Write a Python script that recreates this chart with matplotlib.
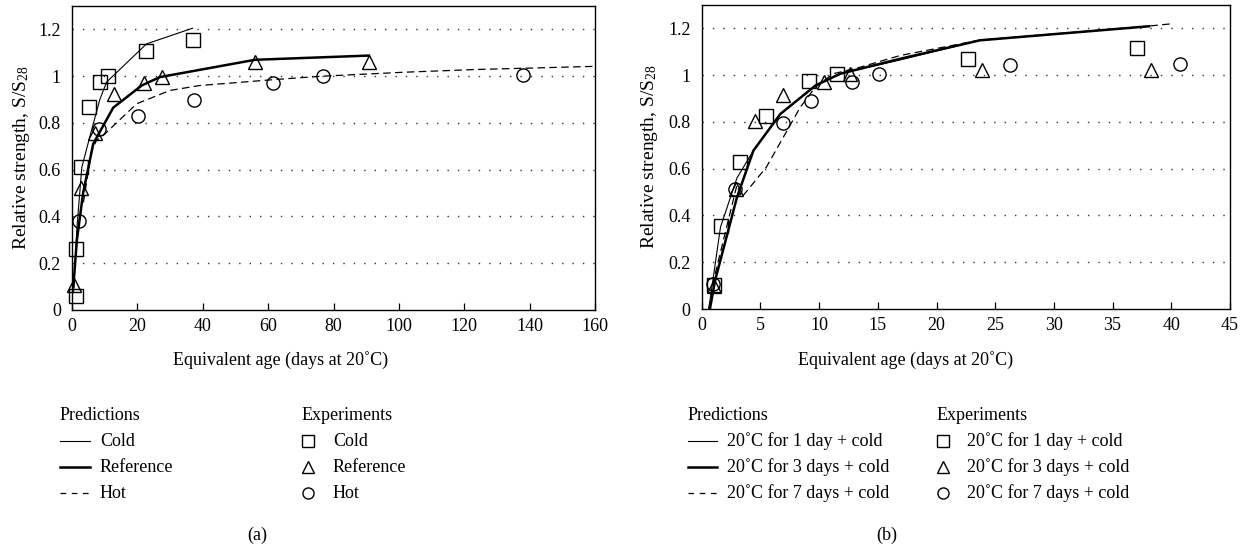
import matplotlib
matplotlib.use("Agg")
import matplotlib.pyplot as plt
from matplotlib.lines import Line2D

plt.rcParams['font.family'] = ['Liberation Serif', 'DejaVu Serif']
plt.rcParams['mathtext.fontset'] = 'custom'
plt.rcParams['mathtext.rm'] = 'Liberation Serif'
plt.rcParams['mathtext.it'] = 'Liberation Serif:italic'
plt.rcParams['font.size'] = 13

# ---------------- data: panel (a) ----------------
a_cold_pred_x = [0.5, 1.5, 3, 6, 8.5, 10.6, 22.8, 36.9]
a_cold_pred_y = [0.08, 0.35, 0.61, 0.77, 0.9, 0.975, 1.138, 1.205]
a_ref_pred_x = [0.4, 1.5, 3.4, 6.5, 12.6, 21.3, 26.9, 56, 90.8]
a_ref_pred_y = [0.1, 0.3, 0.5, 0.711, 0.865, 0.96, 0.996, 1.07, 1.088]
a_hot_pred_x = [3.5, 4.5, 6, 7.5, 9.6, 19.8, 30, 39.1, 61.6, 76.7, 102, 122.7, 160]
a_hot_pred_y = [0.46, 0.55, 0.68, 0.726, 0.747, 0.882, 0.939, 0.96, 0.985, 1.0, 1.017, 1.028, 1.042]

a_cold_exp_x = [1.2, 1.2, 2.8, 5.3, 8.6, 11.1, 22.5, 36.9]
a_cold_exp_y = [0.06, 0.26, 0.61, 0.87, 0.977, 1.0, 1.106, 1.156]
a_ref_exp_x = [0.6, 2.8, 7, 12.9, 22, 27.6, 56, 90.8]
a_ref_exp_y = [0.107, 0.52, 0.755, 0.924, 0.97, 0.998, 1.06, 1.06]
a_hot_exp_x = [2.2, 8.3, 20.1, 37.3, 61.6, 76.7, 138]
a_hot_exp_y = [0.38, 0.775, 0.83, 0.9, 0.97, 1.0, 1.006]

a_xticks = [0, 20, 40, 60, 80, 100, 120, 140, 160]
a_labels = ["Cold", "Reference", "Hot"]

# ---------------- data: panel (b) ----------------
b_d1_pred_x = [0.6, 1.0, 1.6, 3.0, 4.4, 6.7, 9.7, 11.8, 16.9, 23.7, 38.1]
b_d1_pred_y = [0.0, 0.14, 0.35, 0.56, 0.677, 0.834, 0.956, 1.006, 1.065, 1.149, 1.209]
b_d3_pred_x = [0.7, 1.13, 3.0, 4.4, 6.7, 9.7, 11.8, 16.9, 23.7, 38.1]
b_d3_pred_y = [0.0, 0.12, 0.477, 0.677, 0.834, 0.956, 1.006, 1.07, 1.149, 1.209]
b_d7_pred_x = [0.6, 1.0, 3.0, 3.4, 5.5, 8.4, 9.7, 11.2, 13.5, 16.9, 23.7, 38.1, 40.1]
b_d7_pred_y = [0.0, 0.12, 0.53, 0.477, 0.606, 0.863, 0.95, 1.006, 1.034, 1.084, 1.15, 1.21, 1.22]

b_d1_exp_x = [1.05, 1.65, 3.27, 5.5, 9.1, 11.5, 22.7, 37.1]
b_d1_exp_y = [0.103, 0.353, 0.63, 0.824, 0.973, 1.003, 1.067, 1.117]
b_d3_exp_x = [1.05, 2.9, 4.5, 6.9, 10.45, 12.6, 23.9, 38.3]
b_d3_exp_y = [0.1, 0.513, 0.806, 0.916, 0.97, 1.003, 1.02, 1.024]
b_d7_exp_x = [0.95, 2.85, 6.9, 9.3, 12.8, 15.1, 26.3, 40.7]
b_d7_exp_y = [0.105, 0.512, 0.796, 0.888, 0.97, 1.003, 1.044, 1.049]

b_xticks = [0, 5, 10, 15, 20, 25, 30, 35, 40, 45]
b_labels = ["20˚C for 1 day + cold", "20˚C for 3 days + cold", "20˚C for 7 days + cold"]

yticks = [0, 0.2, 0.4, 0.6, 0.8, 1.0, 1.2]
ytick_labels = ["0", "0.2", "0.4", "0.6", "0.8", "1", "1.2"]

W, H = 1247, 550
fig = plt.figure(figsize=(W / 100, H / 100), dpi=100)

line_styles = [dict(color='black', lw=0.8, ls='-'),
               dict(color='black', lw=1.8, ls='-'),
               dict(color='black', lw=0.9, ls=(0, (6, 3.5)))]
markers = ['s', '^', 'o']
msizes = [9.5, 9.5, 9.5]


def px(x0, y0, x1, y1):
    return [x0 / W, 1 - y1 / H, (x1 - x0) / W, (y1 - y0) / H]


def setup(ax, xmax, xticks):
    ax.set_xlim(0, xmax)
    ax.set_ylim(0, 1.3)
    ax.set_xticks(xticks)
    ax.set_xticklabels([str(t) for t in xticks])
    ax.set_yticks(yticks)
    ax.set_yticklabels(ytick_labels)
    ax.tick_params(axis='x', direction='in', length=5, width=0.9, pad=6, labelsize=13)
    ax.tick_params(axis='y', length=0, pad=8, labelsize=13)
    for t in yticks[1:]:
        ax.axhline(t, color='#333333', lw=1.0, ls=(0, (1, 6.5)), zorder=0)
    for s in ax.spines.values():
        s.set_linewidth(1.0)
    ax.set_ylabel(r"Relative strength, S/S$_{28}$", fontsize=14)


ax_a = fig.add_axes(px(72, 6, 595, 310))
ax_b = fig.add_axes(px(701.7, 5, 1230, 309))
setup(ax_a, 160, a_xticks)
setup(ax_b, 45, b_xticks)
ax_a.yaxis.set_label_coords(-0.0765, 0.5)
ax_b.yaxis.set_label_coords(-0.079, 0.5)

a_preds = [(a_cold_pred_x, a_cold_pred_y), (a_ref_pred_x, a_ref_pred_y), (a_hot_pred_x, a_hot_pred_y)]
a_exps = [(a_cold_exp_x, a_cold_exp_y), (a_ref_exp_x, a_ref_exp_y), (a_hot_exp_x, a_hot_exp_y)]
b_preds = [(b_d1_pred_x, b_d1_pred_y), (b_d3_pred_x, b_d3_pred_y), (b_d7_pred_x, b_d7_pred_y)]
b_exps = [(b_d1_exp_x, b_d1_exp_y), (b_d3_exp_x, b_d3_exp_y), (b_d7_exp_x, b_d7_exp_y)]

for ax, preds, exps in [(ax_a, a_preds, a_exps), (ax_b, b_preds, b_exps)]:
    for (x, y), st in zip(preds, line_styles):
        ax.plot(x, y, **st, zorder=3)
    for (x, y), m, ms in zip(exps, markers, msizes):
        ax.plot(x, y, ls='none', marker=m, ms=ms, mfc='none', mec='black',
                mew=1.0, zorder=4, clip_on=False)

# x labels and panel letters
fig.text(281 / W, 1 - 360 / H, "Equivalent age (days at 20˚C)", ha='center', va='center', fontsize=13)
fig.text(906 / W, 1 - 360 / H, "Equivalent age (days at 20˚C)", ha='center', va='center', fontsize=13)
fig.text(257 / W, 1 - 535 / H, "(a)", ha='center', va='center', fontsize=13)
fig.text(887 / W, 1 - 535 / H, "(b)", ha='center', va='center', fontsize=13)

# legends (drawn in figure pixel space)
leg = fig.add_axes([0, 0, 1, 1])
leg.set_xlim(0, W)
leg.set_ylim(H, 0)
leg.axis('off')
leg.patch.set_alpha(0)

rows = [441, 467, 493]


def draw_legend(x_line0, x_line1, x_ltext, x_mark, x_mtext, x_head_p, x_head_e, labels):
    leg.text(x_head_p, 415, "Predictions", ha='left', va='center', fontsize=13)
    leg.text(x_head_e, 415, "Experiments", ha='left', va='center', fontsize=13)
    for yy, st, m, lab in zip(rows, line_styles, markers, labels):
        st2 = dict(st)
        if st2['ls'] != '-':
            st2['ls'] = (0, (4.5, 4.5))
        leg.add_line(Line2D([x_line0, x_line1], [yy, yy], **st2))
        leg.text(x_ltext, yy, lab, ha='left', va='center', fontsize=13)
        leg.plot([x_mark], [yy], ls='none', marker=m, ms=8, mfc='none', mec='black', mew=1.0)
        leg.text(x_mtext, yy, lab, ha='left', va='center', fontsize=13)


draw_legend(60, 90, 100, 308, 333, 60, 302, a_labels)
draw_legend(688, 717, 727, 943, 967, 688, 937, b_labels)

fig.savefig("out.png", dpi=100)
